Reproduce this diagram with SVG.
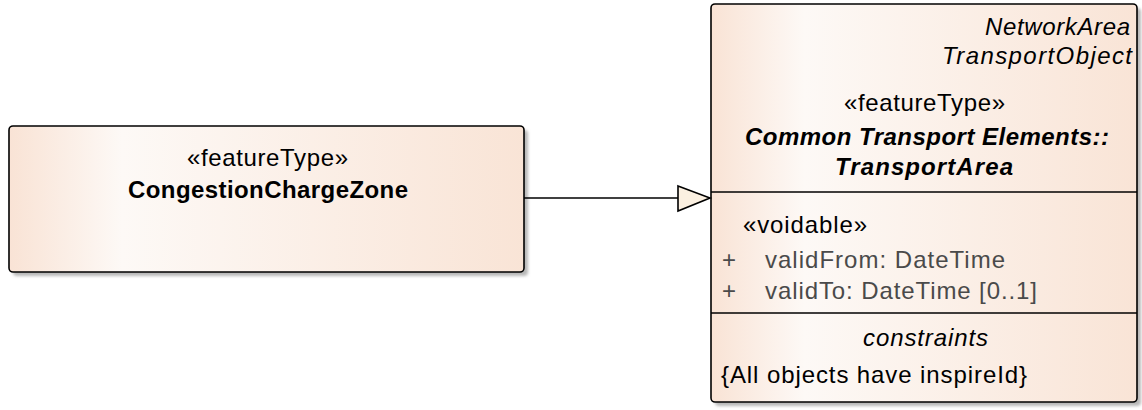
<svg xmlns="http://www.w3.org/2000/svg" width="1142" height="410" viewBox="0 0 1142 410">
<defs>
<linearGradient id="g1" x1="0" y1="0" x2="1" y2="0">
<stop offset="0" stop-color="#F9E3D5"/>
<stop offset="0.22" stop-color="#FDF9F6"/>
<stop offset="1" stop-color="#F9E4D6"/>
</linearGradient>
<filter id="sh" x="-5%" y="-5%" width="115%" height="115%">
<feGaussianBlur stdDeviation="1.5"/>
</filter>
</defs>
<style>
.box{fill:url(#g1);stroke:#000;stroke-width:1.6}
.shadow{fill:#b8b8b8;filter:url(#sh)}
text{font-family:"Liberation Sans",Arial,sans-serif;font-size:24px;fill:#000}
.b{font-weight:bold}
.i{font-style:italic}
.g{fill:#4a4a4a}
.sep{stroke:#000;stroke-width:1.6}
.conn{stroke:#000;stroke-width:1.6;fill:none}
.head{fill:#FBF0E1;stroke:#000;stroke-width:1.6}
</style>
<g id="CongestionChargeZone">
<rect class="shadow" x="13" y="130" width="515" height="146" rx="4"/>
<rect class="box" x="9" y="126" width="515" height="146" rx="4"/>
<text x="187" y="166" textLength="161" lengthAdjust="spacing">«featureType»</text>
<text class="b" x="128" y="198" textLength="280" lengthAdjust="spacing">CongestionChargeZone</text>
</g>
<g id="TransportArea">
<rect class="shadow" x="715" y="8" width="426" height="398" rx="4"/>
<rect class="box" x="711" y="4" width="426" height="398" rx="4"/>
<text class="i" x="985" y="35" textLength="145" lengthAdjust="spacing">NetworkArea</text>
<text class="i" x="942" y="64" textLength="190" lengthAdjust="spacing">TransportObject</text>
<text x="844" y="111" textLength="161" lengthAdjust="spacing">«featureType»</text>
<text class="b i" x="745" y="145" textLength="364" lengthAdjust="spacing">Common Transport Elements::</text>
<text class="b i" x="835" y="175" textLength="178" lengthAdjust="spacing">TransportArea</text>
<line class="sep" x1="711" y1="192" x2="1137" y2="192"/>
<text x="743" y="233" textLength="124" lengthAdjust="spacing">«voidable»</text>
<text class="g" x="722" y="268">+</text>
<text class="g" x="765" y="268" textLength="240" lengthAdjust="spacing">validFrom: DateTime</text>
<text class="g" x="722" y="299">+</text>
<text class="g" x="765" y="299" textLength="272" lengthAdjust="spacing">validTo: DateTime [0..1]</text>
<line class="sep" x1="711" y1="313" x2="1137" y2="313"/>
<text class="i" x="863" y="346" textLength="125" lengthAdjust="spacing">constraints</text>
<text x="721" y="383" textLength="306" lengthAdjust="spacing">{All objects have inspireId}</text>
</g>
<g id="connectors">
<line class="conn" x1="524" y1="198" x2="678" y2="198"/>
<polygon class="head" points="678,186 710,198 678,211"/>
</g>
</svg>
